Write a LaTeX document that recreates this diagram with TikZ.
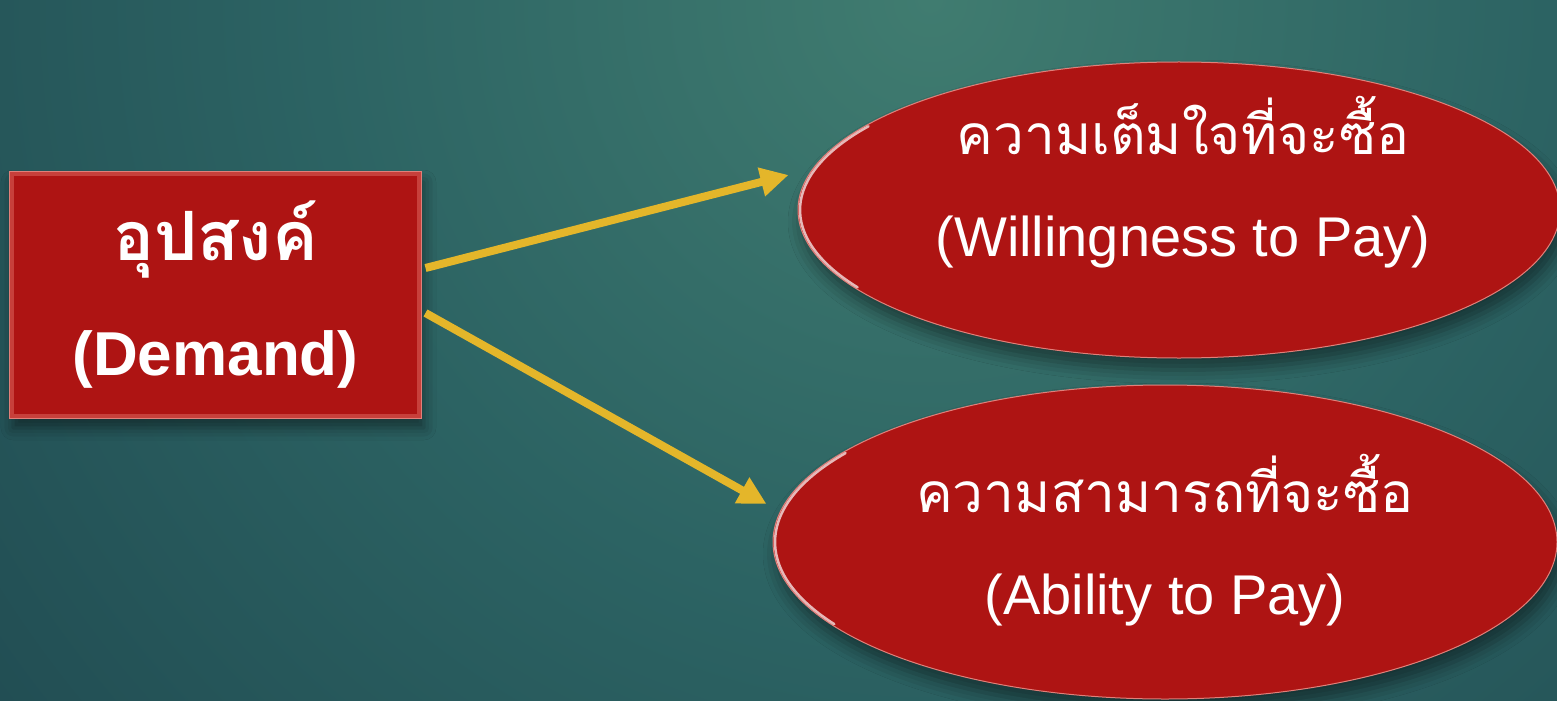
\documentclass[tikz,border=0pt]{standalone}
\usepackage{fontspec}
\setmainfont{Liberation Sans}
\newfontfamily\thaifont[Script=Thai]{Loma}
\usetikzlibrary{arrows.meta,positioning,shapes.geometric,shadows.blur}
\definecolor{bglight}{HTML}{407C70}
\definecolor{bgmid}{HTML}{2C6363}
\definecolor{bgdark}{HTML}{1A3E48}
\definecolor{demandred}{HTML}{AE1413}
\definecolor{bevelred}{HTML}{C7403B}
\definecolor{rimred}{HTML}{E0807A}
\definecolor{arrowgold}{HTML}{E4B62A}
\pgfdeclareradialshading{tealglow}{\pgfpoint{0bp}{0bp}}{color(0bp)=(bglight); color(7bp)=(bgmid); color(18bp)=(bgdark); color(50bp)=(bgdark)}

\begin{document}
\begin{tikzpicture}[x=1bp, y=1bp,
    demandbox/.style={rectangle, fill=demandred, draw=rimred, line width=1bp,
      minimum width=411bp, minimum height=246bp, inner sep=0pt, align=center,
      text=white, font=\fontsize{62bp}{115bp}\selectfont\bfseries,
      blur shadow={shadow xshift=3bp, shadow yshift=-10bp, shadow blur radius=12bp, shadow opacity=45},
      path picture={\draw[bevelred, line width=9bp] (path picture bounding box.south west) rectangle (path picture bounding box.north east);}},
    oval/.style={ellipse, fill=demandred, draw=rimred, line width=1bp, inner sep=0pt,
      blur shadow={shadow xshift=4bp, shadow yshift=-12bp, shadow blur radius=14bp, shadow opacity=45}},
    ovaltext/.style={align=center, text=white, inner sep=0pt,
      font=\fontsize{56bp}{102bp}\selectfont},
    pusharrow/.style={-{Triangle[length=28bp, width=28bp]}, line width=8bp, color=arrowgold},
    rim/.style={white, opacity=.7, line width=2.5bp, line cap=round}
]
\useasboundingbox (0,0) rectangle (1557,-701);

% background
\begin{scope}
  \clip (0,0) rectangle (1557,-701);
  \shade[shading=tealglow] (930,0) circle (2200);
\end{scope}

% nodes
\node[demandbox] (demand) at (215.5,-295) {{\thaifont\fontsize{68bp}{115bp}\selectfont อุปสงค์}\\(Demand)};
\node[oval, minimum width=762bp, minimum height=296bp] (wtp) at (1179,-210) {};
\node[oval, minimum width=784bp, minimum height=314bp] (atp) at (1165,-542) {};
\node[ovaltext] (wtptext) at ([xshift=4bp, yshift=28bp]wtp.center)
  {{\thaifont\fontsize{55bp}{102bp}\selectfont ความเต็มใจที่จะซื้อ}\\(Willingness to Pay)};
\node[ovaltext] (atptext) at ([yshift=2bp]atp.center)
  {{\thaifont\fontsize{55bp}{102bp}\selectfont ความสามารถที่จะซื้อ}\\(Ability to Pay)};

% glossy rims
\draw[rim] ([shift={(145:379 and 146)}]wtp.center) arc[start angle=145, end angle=212, x radius=379, y radius=146];
\draw[rim] ([shift={(145:390 and 155)}]atp.center) arc[start angle=145, end angle=212, x radius=390, y radius=155];

% arrows
\draw[pusharrow] ([shift={(4,27)}]demand.east) -- ([shift={(-9,35)}]wtp.west);
\draw[pusharrow] ([shift={(4,-18)}]demand.east) -- ([shift={(-6,38)}]atp.west);

\end{tikzpicture}
\end{document}
